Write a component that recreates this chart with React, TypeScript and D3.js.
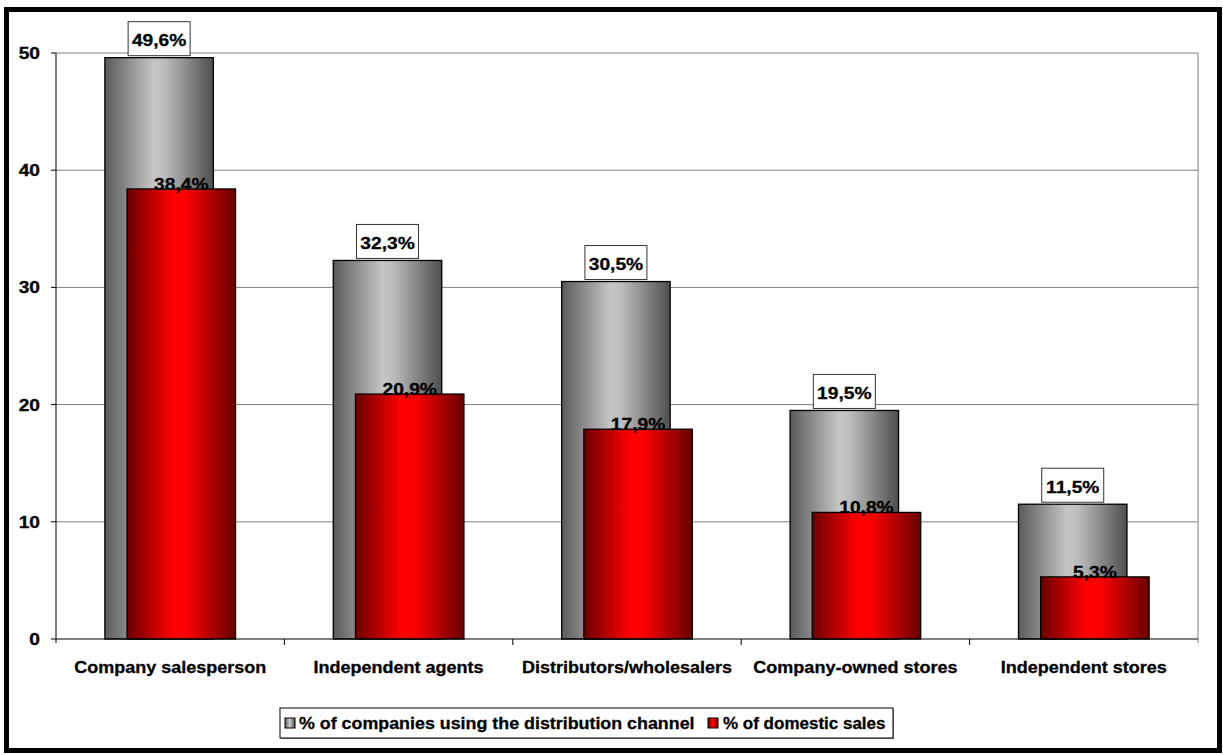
import React from 'react';
import * as d3 from 'd3';

// Distribution channels and the two measured series (percent)
const categories = [
  'Company salesperson',
  'Independent agents',
  'Distributors/wholesalers',
  'Company-owned stores',
  'Independent stores',
];
const companiesUsing = [49.6, 32.3, 30.5, 19.5, 11.5];
const domesticSales = [38.4, 20.9, 17.9, 10.8, 5.3];
const yTicks = [0, 10, 20, 30, 40, 50];
const seriesNames = ['% of companies using the distribution channel', '% of domestic sales'];

const W = 1223;
const H = 754;
const plot = { left: 56, right: 1198, top: 53, bottom: 639 };
const FONT = '"Liberation Sans", Arial, Helvetica, sans-serif';
const SX_NUM = 1.13; // horizontal stretch for numeric labels
const SX_TXT = 1.06; // horizontal stretch for word labels

const fmt = (v: number) => d3.format('.1f')(v).replace('.', ',') + '%';

type TProps = { x: number; y: number; anchor?: string; size?: number; sx?: number; children: React.ReactNode };
const T = ({ x, y, anchor = 'middle', size = 17, sx = SX_NUM, children }: TProps) => (
  <text
    transform={`translate(${x},${y}) scale(${sx},1)`}
    textAnchor={anchor}
    fontFamily={FONT}
    fontWeight="bold"
    fontSize={size}
    fill="#000"
    stroke="#000"
    strokeWidth={0.3}
  >
    {children}
  </text>
);

export default function App() {
  const x = d3.scaleBand<string>().domain(categories).range([plot.left, plot.right]).paddingInner(0).paddingOuter(0);
  const y = d3.scaleLinear().domain([0, 50]).range([plot.bottom, plot.top]);
  const band = x.bandwidth();
  const bw = band * 0.475;
  const off = band * 0.097;

  const legendX = 280;
  const legendY = 708;
  const legendW = 613;
  const legendH = 30;

  return (
    <svg
      width={W}
      height={H}
      style={{ position: 'absolute', left: 0, top: 0, background: '#fff' }}
    >
      <defs>
        <linearGradient id="gradGray" x1="0" x2="1" y1="0" y2="0">
          <stop offset="0" stopColor="#5a5a5a" />
          <stop offset="0.45" stopColor="#c6c6c6" />
          <stop offset="0.55" stopColor="#bdbdbd" />
          <stop offset="1" stopColor="#4e4e4e" />
        </linearGradient>
        <linearGradient id="gradRed" x1="0" x2="1" y1="0" y2="0">
          <stop offset="0" stopColor="#6a0000" />
          <stop offset="0.42" stopColor="#ff0000" />
          <stop offset="0.55" stopColor="#fb0000" />
          <stop offset="1" stopColor="#680000" />
        </linearGradient>
      </defs>

      <rect x={0} y={0} width={W} height={H} fill="#fff" />

      {/* gridlines */}
      {yTicks.filter((t) => t > 0).map((t) => (
        <line key={t} x1={plot.left} x2={plot.right} y1={y(t)} y2={y(t)} stroke="#808080" strokeWidth={1} />
      ))}
      <line x1={plot.right} x2={plot.right} y1={plot.top} y2={plot.bottom + 4} stroke="#808080" strokeWidth={1} />

      {/* bars */}
      {categories.map((c, i) => {
        const cx = (x(c) as number) + band / 2;
        const gx = cx - (bw + off) / 2;
        const rx = gx + off;
        const gTop = y(companiesUsing[i]);
        const rTop = y(domesticSales[i]);
        return (
          <g key={c}>
            <rect
              x={gx}
              y={gTop}
              width={bw}
              height={y(0) - gTop}
              fill="url(#gradGray)"
              stroke="#000"
              strokeWidth={1.3}
            />
            <rect
              x={gx + bw / 2 - 31}
              y={gTop - 36}
              width={62}
              height={34}
              fill="#fff"
              stroke="#333"
              strokeWidth={1}
            />
            <T x={gx + bw / 2} y={gTop - 11.5}>{fmt(companiesUsing[i])}</T>
            <rect
              x={rx}
              y={rTop}
              width={bw}
              height={y(0) - rTop}
              fill="url(#gradRed)"
              stroke="#000"
              strokeWidth={1.3}
            />
            <T x={rx + bw / 2} y={rTop + 1}>{fmt(domesticSales[i])}</T>
          </g>
        );
      })}

      {/* axes */}
      <line x1={plot.left} x2={plot.left} y1={plot.top} y2={plot.bottom + 4} stroke="#000" strokeWidth={1} />
      <line x1={plot.left} x2={plot.right} y1={plot.bottom} y2={plot.bottom} stroke="#000" strokeWidth={1} />
      {yTicks.map((t) => (
        <g key={t}>
          <line x1={plot.left - 5} x2={plot.left} y1={y(t)} y2={y(t)} stroke="#000" strokeWidth={1} />
          <T x={40} y={y(t) + 6} anchor="end">{t}</T>
        </g>
      ))}
      {categories.map((c, i) =>
        i > 0 ? (
          <line key={c} x1={x(c) as number} x2={x(c) as number} y1={plot.bottom} y2={plot.bottom + 6} stroke="#000" strokeWidth={1} />
        ) : null
      )}
      {categories.map((c) => (
        <T key={c} x={(x(c) as number) + band / 2} y={672.5} sx={SX_TXT}>{c}</T>
      ))}

      {/* legend */}
      <rect x={legendX + 1} y={legendY + 1} width={legendW} height={legendH} fill="#888" />
      <rect x={legendX} y={legendY} width={legendW} height={legendH} fill="#fff" stroke="#000" strokeWidth={1} />
      <rect x={285} y={718} width={10} height={10} fill="url(#gradGray)" stroke="#000" strokeWidth={1} />
      <T x={299} y={729} anchor="start" sx={1.05}>{seriesNames[0]}</T>
      <rect x={708} y={718} width={10} height={10} fill="url(#gradRed)" stroke="#000" strokeWidth={1} />
      <T x={723} y={729} anchor="start" sx={1.0}>{seriesNames[1]}</T>

      {/* outer frame */}
      <rect x={6.5} y={9.5} width={1213} height={741} fill="none" stroke="#000" strokeWidth={5} />
    </svg>
  );
}
